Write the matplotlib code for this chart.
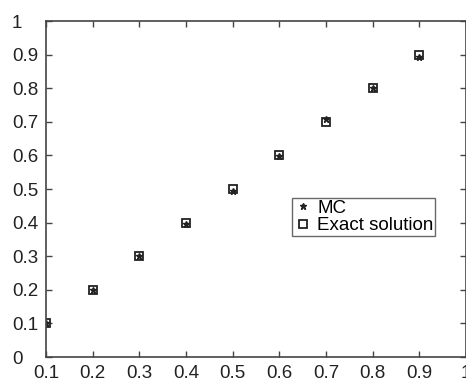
import matplotlib
matplotlib.use("Agg")
import matplotlib.pyplot as plt

plt.rcParams['font.family'] = ['Liberation Sans', 'DejaVu Sans']

x = [0.1, 0.2, 0.3, 0.4, 0.5, 0.6, 0.7, 0.8, 0.9]
mc = [0.10, 0.20, 0.30, 0.395, 0.495, 0.597, 0.707, 0.80, 0.893]
exact = [0.1, 0.2, 0.3, 0.4, 0.5, 0.6, 0.7, 0.8, 0.9]

xticks = [0.1, 0.2, 0.3, 0.4, 0.5, 0.6, 0.7, 0.8, 0.9, 1]
yticks = [0, 0.1, 0.2, 0.3, 0.4, 0.5, 0.6, 0.7, 0.8, 0.9, 1]

fig = plt.figure(figsize=(4.66, 3.78), dpi=100)
ax = fig.add_axes([46 / 466, 21 / 378, 420 / 466, 336 / 378])

ax.plot(x, mc, linestyle='none', marker='*', color='#222222', markersize=5, label='MC')
ax.plot(x, exact, linestyle='none', marker='s', markerfacecolor='none',
        markeredgecolor='#222222', markersize=5.5, markeredgewidth=1.3, label='Exact solution')

ax.set_xlim(0.1, 1.0)
ax.set_ylim(0, 1)
ax.set_xticks(xticks)
ax.set_xticklabels(['0.1', '0.2', '0.3', '0.4', '0.5', '0.6', '0.7', '0.8', '0.9', '1'])
ax.set_yticks(yticks)
ax.set_yticklabels(['0', '0.1', '0.2', '0.3', '0.4', '0.5', '0.6', '0.7', '0.8', '0.9', '1'])
ax.tick_params(direction='in', length=4, width=1, colors='#444444', labelcolor='#222222',
               labelsize=13.5, top=True, right=True)
ax.tick_params(axis='x', pad=6)
# y labels are left aligned, starting about 12 px from the figure edge
ax.tick_params(axis='y', pad=24.5)
for lab in ax.get_yticklabels():
    lab.set_horizontalalignment('left')
for s in ax.spines.values():
    s.set_color('#444444')
    s.set_linewidth(1.2)

leg = ax.legend(loc='lower left', bbox_to_anchor=(0.586, 0.36), fontsize=13.5,
                frameon=True, fancybox=False, borderpad=0.1, handlelength=1.0,
                handletextpad=0.23, labelspacing=0.0, borderaxespad=0)
leg.get_frame().set_edgecolor('#444444')
leg.get_frame().set_linewidth(1.0)

fig.savefig('out.png', dpi=100)
